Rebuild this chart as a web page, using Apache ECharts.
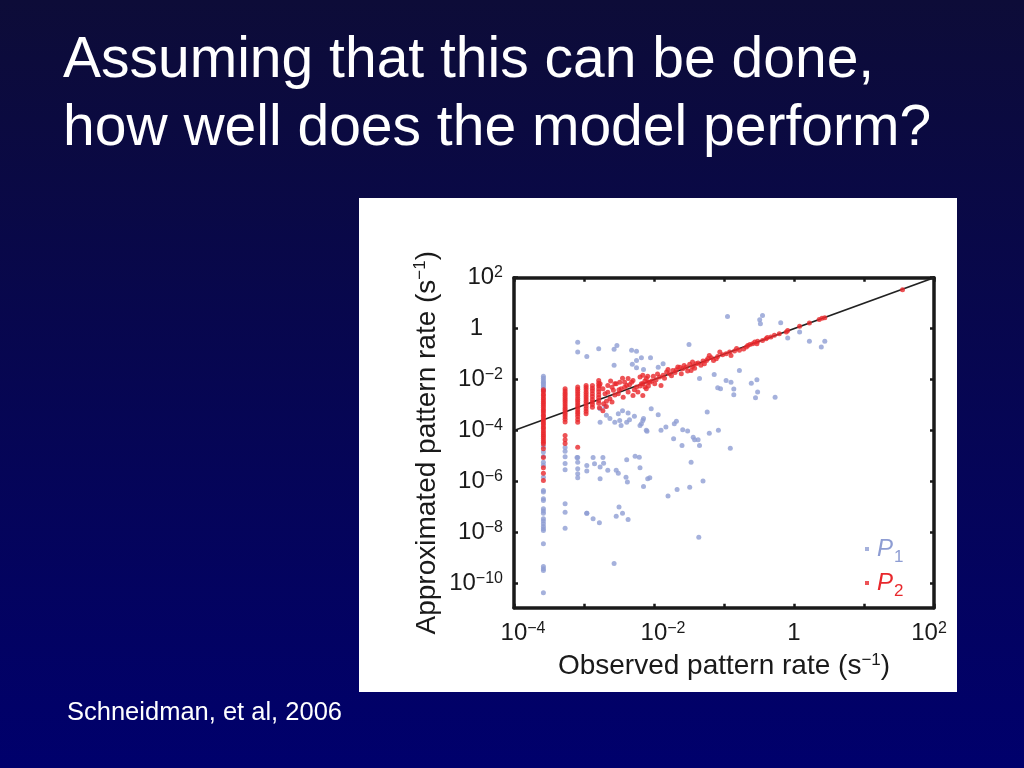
<!DOCTYPE html>
<html><head><meta charset="utf-8">
<script src="https://cdn.jsdelivr.net/npm/echarts@6/dist/echarts.min.js"></script>
<style>html,body{margin:0;padding:0;width:1024px;height:768px;overflow:hidden;background:#05054a}#c{width:1024px;height:768px}</style>
</head><body><div id="c"></div>
<script>
// ---- text ----
const titleLines = ['Assuming that this can be done,', 'how well does the model perform?'];
const citation = 'Schneidman, et al, 2006';
const xName = 'Observed pattern rate (s{e|\u22121})';
const yName = 'Approximated pattern rate (s{e|\u22121})';
const legendNames = ['P1', 'P2'];

// ---- axes (log10 exponents) ----
const xRange = [-4, 2];
const yRange = [-10.95, 2];
const xTicks = [-4, -3, -2, -1, 0, 1, 2];
const xLabelValues = [-4, -2, 0, 2];
const yTicks = [-10, -8, -6, -4, -2, 0, 2];

// identity line (approximated = observed)
const identityLine = [[-4, -4], [2, 2]];

// ---- P1 points: [log10 observed, log10 approximated] ----
const p1 = [
[-3.58,-1.87],[-3.58,-1.95],[-3.58,-2.03],[-3.58,-2.10],[-3.58,-2.16],[-3.58,-2.23],[-3.58,-2.31],[-3.58,-2.38],[-3.58,-2.43],
[-3.58,-4.62],[-3.58,-4.84],[-3.58,-5.02],[-3.58,-5.24],[-3.58,-5.36],[-3.58,-5.83],[-3.58,-6.35],[-3.58,-6.41],[-3.58,-6.67],
[-3.58,-6.74],[-3.58,-7.07],[-3.58,-7.16],[-3.58,-7.24],[-3.58,-7.46],[-3.58,-7.55],[-3.58,-7.66],[-3.58,-7.76],[-3.58,-7.85],
[-3.58,-7.92],[-3.58,-8.44],[-3.58,-9.33],[-3.58,-9.42],[-3.58,-9.49],[-3.58,-10.36],
[-3.27,-4.66],[-3.27,-4.81],[-3.27,-5.03],[-3.27,-5.29],[-3.27,-5.54],[-3.27,-6.87],[-3.27,-7.20],[-3.27,-7.83],
[-3.09,-0.53],[-3.09,-0.92],[-3.09,-5.06],[-3.09,-5.24],[-3.09,-5.50],[-3.09,-5.69],[-3.09,-5.85],
[-2.96,-1.09],[-2.96,-5.37],[-2.96,-5.59],[-2.96,-7.24],
[-2.79,-0.79],[-2.57,-0.81],[-2.53,-0.66],[-2.57,-1.44],[-2.32,-0.85],[-2.25,-0.89],[-2.25,-1.25],[-2.18,-1.14],
[-2.31,-1.40],[-2.25,-1.53],[-2.15,-1.60],[-2.05,-1.14],[-1.94,-1.51],[-1.87,-1.38],[-1.50,-0.62],
[-0.95,0.48],[-0.45,0.52],[-0.49,0.35],[-0.48,0.19],[-0.19,0.23],[-0.09,-0.37],[0.08,-0.13],[0.22,-0.49],[0.44,-0.49],[0.39,-0.72],
[-1.35,-1.96],[-1.14,-1.80],[-0.97,-2.03],[-0.90,-2.10],[-0.78,-1.64],[-0.61,-2.14],[-0.53,-2.00],[-1.09,-2.32],[-1.05,-2.36],
[-0.86,-2.37],[-0.86,-2.59],[-0.52,-2.49],[-0.55,-2.71],[-0.27,-2.69],
[-2.04,-3.14],[-1.94,-3.38],[-2.15,-3.53],[-2.18,-3.73],[-2.10,-4.03],[-1.90,-3.99],[-1.83,-3.86],[-1.71,-3.73],[-1.68,-3.63],
[-1.24,-3.27],[-1.59,-3.97],[-1.52,-4.02],[-1.21,-4.10],[-1.08,-3.99],[-1.72,-4.32],[-1.44,-4.26],[-1.42,-4.36],[-1.37,-4.36],
[-1.60,-4.58],[-1.35,-4.58],[-0.91,-4.69],
[-2.77,-3.67],[-2.68,-3.40],[-2.63,-3.53],[-2.56,-3.67],[-2.49,-3.60],[-2.47,-3.80],[-2.39,-3.67],[-2.35,-3.57],[-2.28,-3.44],
[-2.20,-3.80],[-2.16,-3.60],[-2.11,-3.99],[-2.51,-3.34],[-2.37,-3.31],[-2.77,-3.14],[-2.70,-3.05],[-2.45,-3.22],
[-3.10,-5.06],[-2.87,-5.06],[-2.85,-5.30],[-2.77,-5.43],[-2.73,-5.06],[-2.72,-5.28],[-2.77,-5.89],[-2.66,-5.56],[-2.54,-5.56],
[-2.51,-5.67],[-2.39,-5.14],[-2.40,-5.83],[-2.38,-6.02],[-2.27,-5.01],[-2.15,-6.19],[-2.09,-5.89],[-2.21,-5.05],
[-1.47,-5.24],[-2.20,-5.46],[-2.06,-5.85],[-1.80,-6.57],[-1.67,-6.31],[-1.49,-6.22],[-1.30,-5.98],
[-2.96,-7.24],[-2.87,-7.46],[-2.78,-7.62],[-2.50,-7.00],[-2.54,-7.36],[-2.45,-7.24],[-2.37,-7.49],[-2.57,-9.22],[-1.36,-8.19]
];

// ---- P2 points ----
const p2 = [
[-3.58,-2.40],[-3.58,-2.47],[-3.58,-2.56],[-3.58,-2.62],[-3.58,-2.71],[-3.58,-2.78],[-3.58,-2.86],[-3.58,-2.93],[-3.58,-3.01],
[-3.58,-3.08],[-3.58,-3.17],[-3.58,-3.23],[-3.58,-3.31],[-3.58,-3.40],[-3.58,-3.46],[-3.58,-3.55],[-3.58,-3.62],[-3.58,-3.70],
[-3.58,-3.77],[-3.58,-3.86],[-3.58,-3.92],[-3.58,-4.01],[-3.58,-4.08],[-3.58,-4.16],[-3.58,-4.23],[-3.58,-4.31],[-3.58,-4.39],
[-3.58,-4.46],[-3.58,-4.53],[-3.58,-4.71],[-3.58,-5.06],[-3.58,-5.46],[-3.58,-5.67],[-3.58,-5.96],
[-3.27,-2.36],[-3.27,-2.45],[-3.27,-2.53],[-3.27,-2.61],[-3.27,-2.70],[-3.27,-2.78],[-3.27,-2.86],[-3.27,-2.95],[-3.27,-3.03],
[-3.27,-3.12],[-3.27,-3.20],[-3.27,-3.29],[-3.27,-3.37],[-3.27,-3.46],[-3.27,-3.55],[-3.27,-3.66],[-3.27,-4.19],[-3.27,-4.36],[-3.27,-4.51],
[-3.09,-2.29],[-3.09,-2.38],[-3.09,-2.47],[-3.09,-2.55],[-3.09,-2.64],[-3.09,-2.74],[-3.09,-2.82],[-3.09,-2.91],[-3.09,-3.00],
[-3.09,-3.08],[-3.09,-3.18],[-3.09,-3.27],[-3.09,-3.35],[-3.09,-3.45],[-3.09,-3.56],[-3.09,-3.67],[-3.09,-4.65],
[-2.97,-2.23],[-2.97,-2.31],[-2.97,-2.40],[-2.97,-2.50],[-2.97,-2.58],[-2.97,-2.67],[-2.97,-2.76],[-2.97,-2.85],[-2.97,-2.94],
[-2.97,-3.04],[-2.97,-3.14],[-2.97,-3.24],[-2.97,-3.34],
[-2.88,-2.23],[-2.88,-2.34],[-2.88,-2.44],[-2.88,-2.55],[-2.88,-2.66],[-2.88,-2.78],[-2.88,-2.88],[-2.88,-2.98],[-2.88,-3.08],
[-2.79,-2.03],[-2.79,-2.14],[-2.79,-2.25],[-2.79,-2.37],[-2.79,-2.48],[-2.79,-2.59],[-2.79,-2.70],[-2.79,-2.82],[-2.79,-2.93],
[-2.78,-3.10],[-2.73,-3.22],[-2.68,-3.05],
[-2.78,-2.23],[-2.56,-2.16],[-2.49,-2.10],[-2.42,-2.10],[-2.37,-1.96],[-2.30,-2.03],[-2.20,-1.90],[-2.16,-1.83],[-2.09,-1.87],
[-2.77,-2.16],[-2.73,-2.36],[-2.70,-2.55],[-2.66,-2.23],[-2.63,-2.75],[-2.58,-2.42],[-2.54,-2.16],[-2.51,-2.55],[-2.47,-2.36],
[-2.44,-2.69],[-2.39,-2.23],[-2.37,-2.49],[-2.32,-2.10],[-2.30,-2.62],[-2.25,-2.29],[-2.23,-2.49],[-2.18,-2.16],[-2.16,-2.62],
[-2.11,-2.36],[-2.09,-2.10],[-2.60,-2.30],[-2.50,-2.40],[-2.42,-2.30],[-2.35,-2.20],[-2.28,-2.40],[-2.20,-2.25],[-2.13,-2.05],
[-2.62,-2.05],[-2.45,-1.95],[-2.56,-2.60],[-2.66,-2.50],[-2.68,-2.85],[-2.72,-2.95],[-2.60,-2.88],
[-0.11,-0.13],[-0.21,-0.20],[-0.33,-0.33],[-0.45,-0.46],[-0.52,-0.49],[-0.59,-0.59],[-0.78,-0.85],[-0.92,-0.92],[-0.97,-0.98],
[-1.06,-0.92],[-1.09,-1.09],[-1.18,-1.14],[-1.25,-1.25],[-1.30,-1.27],[-1.40,-1.38],[-1.45,-1.48],[-1.49,-1.40],[-1.54,-1.51],
[-1.59,-1.57],[-1.63,-1.51],[-1.68,-1.61],[-1.73,-1.64],[-1.78,-1.77],[-1.82,-1.70],[-1.87,-1.83],[-1.92,-1.90],[-1.97,-2.00],
[-2.01,-1.87],[-2.06,-2.10],[-2.11,-1.96],[-2.16,-2.16],[-1.99,-2.16],[-2.13,-2.29],[-1.90,-2.23],[-1.61,-1.77],[-1.47,-1.64],
[-1.33,-1.44],[-1.11,-1.18],[-0.90,-1.05],[-0.68,-0.72],[-0.66,-0.66],[-0.53,-0.59],[-1.45,-1.31],[-1.21,-1.05],
[-2.08,-2.25],[-2.03,-2.05],[-1.95,-1.78],[-1.85,-1.95],[-1.80,-1.60],[-1.75,-1.85],[-1.70,-1.72],[-1.66,-1.50],[-1.57,-1.45],
[-1.52,-1.66],[-1.42,-1.55],[-1.37,-1.35],[-1.28,-1.38],[-1.23,-1.17],[-1.15,-1.25],[-1.02,-1.02],[-0.85,-0.88],[-0.82,-0.78],
[-0.72,-0.80],[-0.63,-0.62],[-0.56,-0.52],[-0.40,-0.40],[-0.38,-0.35],[-0.28,-0.26],
[-0.09,-0.07],[0.08,0.09],[0.22,0.22],[0.36,0.36],[0.40,0.41],[0.44,0.43],[1.55,1.53]
];

const FONT = '"Liberation Sans", Arial, Helvetica, sans-serif';
const BLUE = '#8e9dd3';
const RED = '#e8282c';
const INK = '#1a1a1a';

function sup(v) { return v < 0 ? '\u2212' + Math.abs(v) : String(v); }

const labelRich = {
  b: { fontSize: 24, lineHeight: 26, fontFamily: FONT, color: INK },
  e: { fontSize: 16, lineHeight: 16, fontFamily: FONT, color: INK, verticalAlign: 'top' },
  sp: { width: 18 },
  sp2: { width: 10 },
  sp1: { width: 20 }
};

const tickStyle = { show: true, inside: true, length: 4, lineStyle: { color: INK, width: 2.5 } };
const lineStyle = { show: true, lineStyle: { color: INK, width: 3.5 }, onZero: false };

const chart = echarts.init(document.getElementById('c'), null, { renderer: 'canvas' });
chart.setOption({
  animation: false,
  backgroundColor: {
    type: 'linear', x: 0, y: 0, x2: 0, y2: 1,
    colorStops: [{ offset: 0, color: '#0d0c38' }, { offset: 1, color: '#00006c' }]
  },
  graphic: [
    { type: 'rect', z: -10, shape: { x: 359, y: 198, width: 598, height: 494 }, style: { fill: '#ffffff' } },
    { type: 'text', x: 63, y: 61, style: { text: titleLines[0], fill: '#fff', font: '57px ' + FONT, verticalAlign: 'middle' } },
    { type: 'text', x: 63, y: 129, style: { text: titleLines[1], fill: '#fff', font: '57px ' + FONT, verticalAlign: 'middle' } },
    { type: 'text', x: 67, y: 713, style: { text: citation, fill: '#fff', font: '25.5px ' + FONT, verticalAlign: 'middle' } }
  ],
  grid: { left: 514, top: 277.7, width: 420, height: 330, containLabel: false },
  legend: {
    data: legendNames, orient: 'vertical', left: 865, top: 537, itemWidth: 4, itemHeight: 4, itemGap: 5,
    icon: 'rect', selectedMode: false, padding: 0,
    formatter: n => n === 'P1' ? '{p1|P}{s1|1}' : '{p2|P}{s2|2}',
    textStyle: {
      rich: {
        p1: { fontSize: 24, lineHeight: 24, fontStyle: 'italic', fontFamily: FONT, color: BLUE, verticalAlign: 'top', padding: [0, 0, 0, 3] },
        s1: { fontSize: 17, lineHeight: 17, fontFamily: FONT, color: BLUE, verticalAlign: 'top', padding: [12, 0, 0, 1] },
        p2: { fontSize: 24, lineHeight: 24, fontStyle: 'italic', fontFamily: FONT, color: RED, verticalAlign: 'top', padding: [0, 0, 0, 3] },
        s2: { fontSize: 17, lineHeight: 17, fontFamily: FONT, color: RED, verticalAlign: 'top', padding: [12, 0, 0, 1] }
      }
    }
  },
  xAxis: [
    {
      type: 'value', min: xRange[0], max: xRange[1], position: 'bottom',
      axisLine: lineStyle, splitLine: { show: false },
      axisTick: Object.assign({ customValues: xTicks }, tickStyle),
      axisLabel: {
        customValues: xLabelValues, margin: 13, rich: labelRich,
        formatter: v => v === 0 ? '{b|1}' : (v < 0 ? '{sp|}{b|10}{e|' + sup(v) + '}' : '{b|10}{e|' + sup(v) + '}{sp2|}')
      },
      name: xName, nameLocation: 'middle', nameGap: 44,
      nameTextStyle: { fontSize: 28, lineHeight: 30, fontFamily: FONT, color: INK,
        rich: { e: { fontSize: 17, lineHeight: 17, fontFamily: FONT, color: INK, verticalAlign: 'top' } } }
    },
    {
      type: 'value', min: xRange[0], max: xRange[1], position: 'top',
      axisLine: lineStyle, splitLine: { show: false },
      axisTick: Object.assign({ customValues: xTicks }, tickStyle),
      axisLabel: { show: false }
    }
  ],
  yAxis: [
    {
      type: 'value', min: yRange[0], max: yRange[1], position: 'left',
      axisLine: lineStyle, splitLine: { show: false },
      axisTick: Object.assign({ customValues: yTicks }, tickStyle),
      axisLabel: {
        customValues: yTicks, margin: 11, rich: labelRich,
        formatter: v => v === 0 ? '{b|1}{sp1|}' : '{b|10}{e|' + sup(v) + '}'
      },
      name: yName, nameLocation: 'middle', nameGap: 72, nameRotate: 90,
      nameTextStyle: { fontSize: 28, lineHeight: 30, fontFamily: FONT, color: INK,
        rich: { e: { fontSize: 17, lineHeight: 17, fontFamily: FONT, color: INK, verticalAlign: 'top' } } }
    },
    {
      type: 'value', min: yRange[0], max: yRange[1], position: 'right',
      axisLine: lineStyle, splitLine: { show: false },
      axisTick: Object.assign({ customValues: yTicks }, tickStyle),
      axisLabel: { show: false }
    }
  ],
  series: [
    { type: 'scatter', name: 'P1', data: p1, symbolSize: 5, itemStyle: { color: BLUE }, z: 2 },
    { type: 'line', name: 'identity', data: identityLine, showSymbol: false, silent: true,
      lineStyle: { color: '#222', width: 1.6 }, z: 3 },
    { type: 'scatter', name: 'P2', data: p2, symbolSize: 5, itemStyle: { color: RED }, z: 4 }
  ]
});
</script>
</body></html>
